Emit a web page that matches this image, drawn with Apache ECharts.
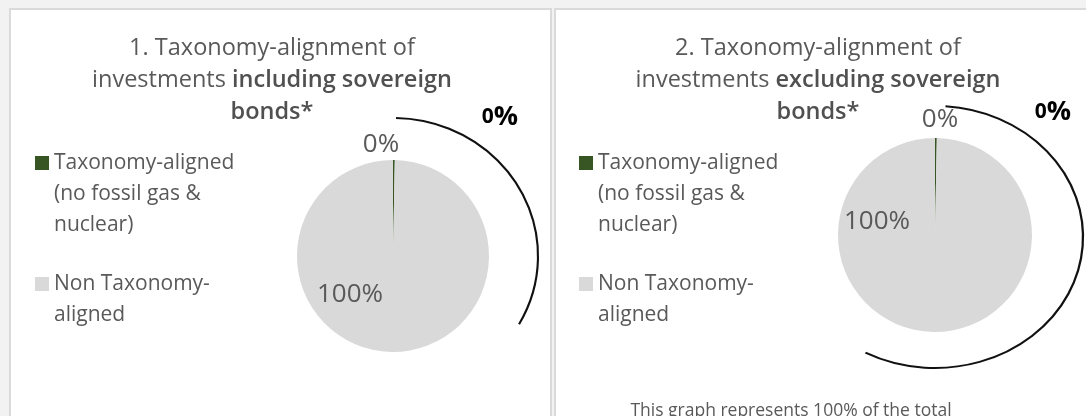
<!DOCTYPE html>
<html>
<head>
<meta charset="utf-8">
<script src="https://cdn.jsdelivr.net/npm/echarts@6/dist/echarts.min.js"></script>
<style>
  html, body { margin: 0; padding: 0; background: #f2f2f2; }
  #chart { width: 1086px; height: 416px; }
</style>
</head>
<body>
<div id="chart"></div>
<script>
// categories and values (share of investments, %)
var categories = ['Taxonomy-aligned\n(no fossil gas &\nnuclear)', 'Non Taxonomy-\naligned'];
var inclSovereign = [0.3, 99.7];
var exclSovereign = [0.3, 99.7];
var colors = ['#375623', '#d9d9d9'];
var footnote = 'This graph represents 100% of the total';

// where the slice labels sit (pie index -> [x, y] per slice)
var labelPos = [
  [[381, 145], [350, 295]],
  [[940, 120], [877, 222]]
];

var font = 'Open Sans';
var grey = '#595959';

var myChart = echarts.init(document.getElementById('chart'));

function titleText(n, word) {
  return '{n|' + n + '. Taxonomy-alignment of}\n{n|investments }{b|' + word + ' sovereign}\n{b|bonds*}';
}
var titleRich = {
  n: { fontFamily: font, fontSize: 23.5, color: grey, fontWeight: 'normal', lineHeight: 32, align: 'center' },
  b: { fontFamily: font, fontSize: 23.5, color: '#505050', fontWeight: 600, lineHeight: 32, align: 'center' }
};

// legend icon: square placed next to the first text line of each item
var legendIcons = [
  'path://M0,0L0,0M0,93L0,93M0,8.5L14,8.5L14,22.5L0,22.5Z',
  'path://M0,0L0,0M0,93L0,93M0,24L14,24L14,38L0,38Z'
];

function legendFor(left) {
  return {
    left: left, top: 147.5, orient: 'vertical', padding: 0,
    itemWidth: 14, itemHeight: 93, itemGap: 12.5,
    selectedMode: false,
    textStyle: { fontFamily: font, fontSize: 21, color: grey, lineHeight: 31 },
    data: categories.map(function (c, i) { return { name: c, icon: legendIcons[i] }; })
  };
}

function pieSeries(idx, center, radius, values) {
  return {
    type: 'pie',
    center: center,
    radius: radius,
    startAngle: 90,
    clockwise: true,
    silent: true,
    emphasis: { disabled: true },
    itemStyle: { borderWidth: 0 },
    label: {
      show: true, position: 'inside',
      fontFamily: font, fontSize: 26, color: grey,
      formatter: function (p) { return Math.round(p.percent) + '%'; }
    },
    labelLine: { show: false },
    labelLayout: function (p) {
      var pos = labelPos[idx][p.dataIndex];
      return { x: pos[0], y: pos[1], align: 'center', verticalAlign: 'middle' };
    },
    data: categories.map(function (c, i) {
      return { name: c, value: values[i], itemStyle: { color: colors[i] } };
    })
  };
}

function arc(cx, cy, rx, ry, a0, a1) {
  return {
    type: 'arc', x: cx, y: cy, scaleX: rx / ry, z: 1,
    shape: { cx: 0, cy: 0, r: ry, startAngle: a0, endAngle: a1, clockwise: true },
    style: { stroke: '#111', lineWidth: 2, fill: null, strokeNoScale: true }
  };
}

var boldZero = {
  a: { fontFamily: font, fontSize: 21, fontWeight: 'bold', color: '#000' },
  b: { fontFamily: font, fontSize: 27, fontWeight: 'bold', color: '#000' }
};

var option = {
  backgroundColor: '#f2f2f2',
  color: colors,
  animation: false,
  title: [
    { text: titleText(1, 'including'), left: 272, top: 32, textAlign: 'center', padding: 0, textStyle: { fontWeight: 'normal', rich: titleRich } },
    { text: titleText(2, 'excluding'), left: 818, top: 32, textAlign: 'center', padding: 0, textStyle: { fontWeight: 'normal', rich: titleRich } }
  ],
  legend: [legendFor(35), legendFor(579)],
  graphic: [
    { type: 'rect', z: -10, shape: { x: 10, y: 9, width: 541, height: 420 }, style: { fill: '#fff', stroke: '#dadada', lineWidth: 2 } },
    { type: 'rect', z: -10, shape: { x: 555, y: 9, width: 540, height: 420 }, style: { fill: '#fff', stroke: '#dadada', lineWidth: 2 } },
    arc(393, 256, 145, 138, -1.55, 0.517),
    arc(935, 237, 148, 131, -1.50, 2.06),
    { type: 'text', x: 500, y: 117, z: 5, style: { text: '{a|0}{b|%}', rich: boldZero, align: 'center', verticalAlign: 'middle' } },
    { type: 'text', x: 1053, y: 112, z: 5, style: { text: '{a|0}{b|%}', rich: boldZero, align: 'center', verticalAlign: 'middle' } },
    { type: 'text', x: 791, y: 411, z: 5, style: { text: footnote, fontFamily: font, fontSize: 17.5, fill: grey, align: 'center', verticalAlign: 'middle' } }
  ],
  series: [
    pieSeries(0, [393, 256], 96, inclSovereign),
    pieSeries(1, [935, 235], 97, exclSovereign)
  ]
};
myChart.setOption(option);
</script>
</body>
</html>
